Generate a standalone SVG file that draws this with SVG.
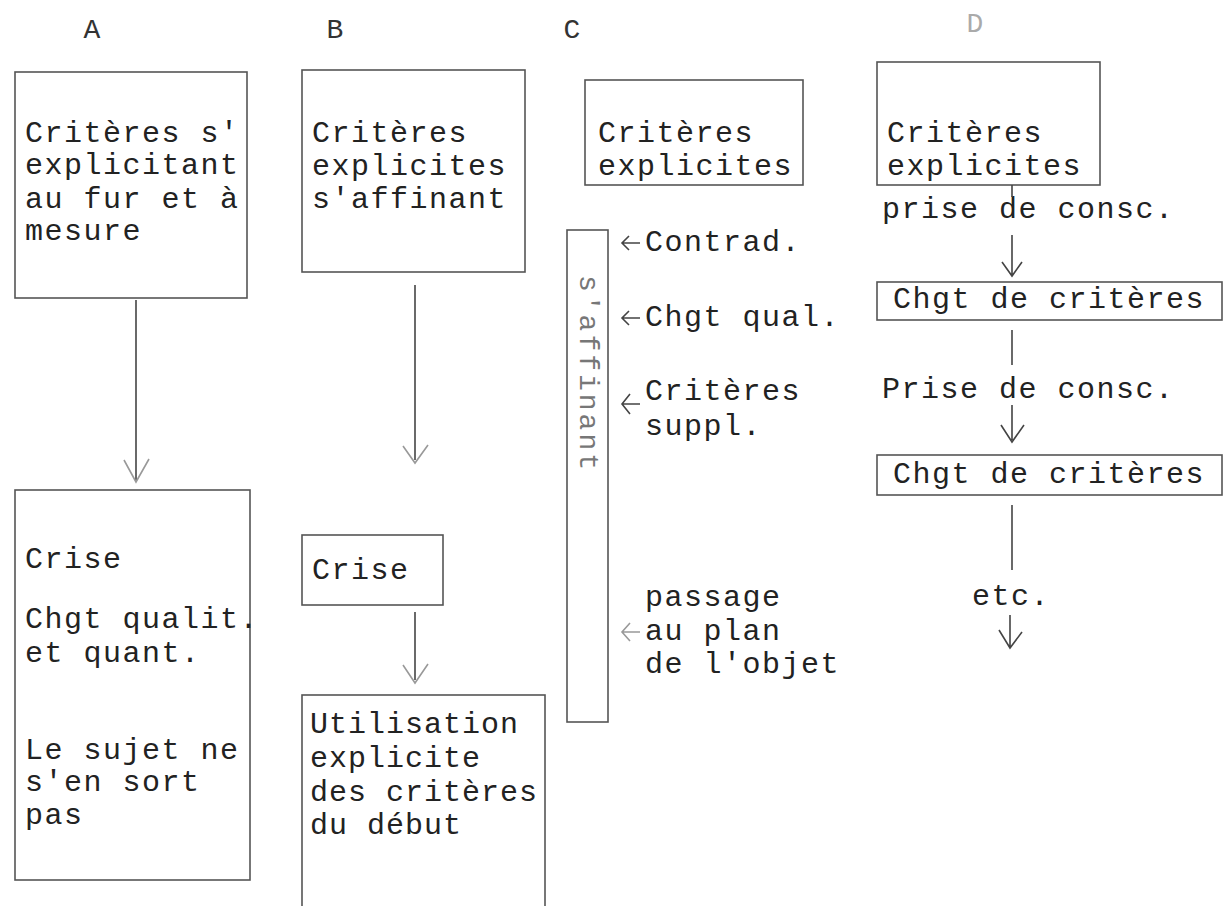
<svg xmlns="http://www.w3.org/2000/svg" width="1226" height="906" viewBox="0 0 1226 906">
<defs>
<style>
.t{font-family:"Liberation Mono","DejaVu Sans Mono",monospace;font-size:30px;letter-spacing:1.5px;fill:#222}
.h{font-family:"Liberation Mono","DejaVu Sans Mono",monospace;font-size:28px;fill:#333}
.box{fill:none;stroke:#555;stroke-width:1.6}
.ln{fill:none;stroke:#444;stroke-width:1.6}
.lt{fill:none;stroke:#999;stroke-width:1.6}
</style>
</defs>
<rect width="1226" height="906" fill="#fff"/>
<g id="headers">
<text class="h" x="92" y="38" text-anchor="middle">A</text>
<text class="h" x="335" y="38" text-anchor="middle">B</text>
<text class="h" x="572" y="38" text-anchor="middle">C</text>
<text class="h" x="975" y="32" text-anchor="middle" style="fill:#aaa">D</text>
</g>
<g id="a1">
<rect class="box" x="15" y="72" width="232" height="226"/>
<text class="t" x="25" y="142">Critères s'</text>
<text class="t" x="25" y="174">explicitant</text>
<text class="t" x="25" y="208">au fur et à</text>
<text class="t" x="25" y="240">mesure</text>
</g>
<g id="a2">
<rect class="box" x="15" y="490" width="235" height="390"/>
<text class="t" x="25" y="568">Crise</text>
<text class="t" x="25" y="628">Chgt qualit.</text>
<text class="t" x="25" y="662">et quant.</text>
<text class="t" x="25" y="759">Le sujet ne</text>
<text class="t" x="25" y="791">s'en sort</text>
<text class="t" x="25" y="824">pas</text>
</g>
<g id="b1">
<rect class="box" x="302" y="70" width="223" height="202"/>
<text class="t" x="312" y="142">Critères</text>
<text class="t" x="312" y="175">explicites</text>
<text class="t" x="312" y="208">s'affinant</text>
</g>
<g id="b2">
<rect class="box" x="302" y="535" width="141" height="70"/>
<text class="t" x="312" y="579">Crise</text>
</g>
<g id="b3">
<rect class="box" x="302" y="695" width="243" height="220"/>
<text class="t" x="310" y="733" style="letter-spacing:1px">Utilisation</text>
<text class="t" x="310" y="767" style="letter-spacing:1px">explicite</text>
<text class="t" x="310" y="801" style="letter-spacing:1px">des critères</text>
<text class="t" x="310" y="834" style="letter-spacing:1px">du début</text>
</g>
<g id="c1">
<rect class="box" x="585" y="80" width="218" height="105"/>
<text class="t" x="598" y="142">Critères</text>
<text class="t" x="598" y="175">explicites</text>
</g>
<g id="c2">
<rect class="box" x="567" y="230" width="41" height="492"/>
<text class="h" x="0" y="0" transform="translate(580,275) rotate(90)" style="fill:#777;letter-spacing:3px">s'affinant</text>
</g>
<g id="c-labels">
<text class="t" x="645" y="251">Contrad.</text>
<text class="t" x="645" y="326">Chgt qual.</text>
<text class="t" x="645" y="400">Critères</text>
<text class="t" x="645" y="435">suppl.</text>
<text class="t" x="645" y="606">passage</text>
<text class="t" x="645" y="640">au plan</text>
<text class="t" x="645" y="673">de l'objet</text>
</g>
<g id="d1">
<rect class="box" x="877" y="62" width="223" height="123"/>
<text class="t" x="887" y="142">Critères</text>
<text class="t" x="887" y="175">explicites</text>
</g>
<g id="d-label1"><text class="t" x="882" y="218">prise de consc.</text></g>
<g id="d2">
<rect class="box" x="877" y="282" width="345" height="38"/>
<text class="t" x="893" y="308">Chgt de critères</text>
</g>
<g id="d-label2"><text class="t" x="882" y="398">Prise de consc.</text></g>
<g id="d3">
<rect class="box" x="877" y="455" width="345" height="40"/>
<text class="t" x="893" y="483">Chgt de critères</text>
</g>
<g id="d-label3"><text class="t" x="972" y="605">etc.</text></g>
<g id="connectors">
<path class="ln" d="M136,300 V480"/>
<path class="lt" d="M124,460 L136,482 L149,459"/>
<path class="ln" d="M415,285 V460"/>
<path class="lt" d="M403,446 L415,463 L428,445"/>
<path class="ln" d="M415,612 V680"/>
<path class="lt" d="M403,665 L415,683 L428,664"/>
<path class="ln" d="M622,243 H640 M629,236 L622,243 L629,250"/>
<path class="ln" d="M622,318 H640 M629,311 L622,318 L629,325"/>
<path class="ln" d="M622,404 H640 M630,394 L622,404 L630,414"/>
<path class="lt" d="M622,632 H640 M630,623 L622,632 L630,641"/>
<path class="ln" d="M1012,185 V197"/>
<path class="ln" d="M1012,235 V275 M1002,262 L1012,276 L1022,262"/>
<path class="ln" d="M1012,330 V365"/>
<path class="ln" d="M1012,405 V440 M1001,425 L1012,442 L1024,425"/>
<path class="ln" d="M1012,505 V570"/>
<path class="ln" d="M1010,615 V647 M999,630 L1010,648 L1022,632"/>
</g>
</svg>
